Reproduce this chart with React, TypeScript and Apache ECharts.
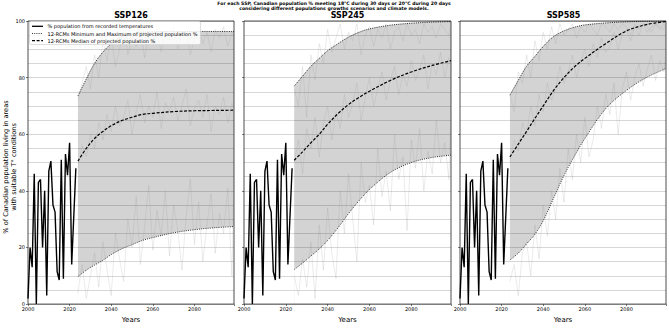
import React, { useEffect, useRef } from "react";
import * as echarts from "echarts";

const recordedYears = [2000, 2001, 2002, 2003, 2004, 2005, 2006, 2007, 2008, 2009, 2010, 2011, 2012, 2013, 2014, 2015, 2016, 2017, 2018, 2019, 2020, 2021, 2022, 2023];
const recordedPct = [2, 20, 13, 46, 0, 43, 44, 20, 40, 3, 47, 50.5, 35, 32.5, 11.5, 8.5, 51, 9, 53, 45.5, 57, 14, 31, 48];

const projYears = [2024, 2028, 2032, 2036, 2040, 2045, 2050, 2055, 2060, 2070, 2080, 2090, 2099];
const rawYears = [2024, 2026, 2028, 2030, 2032, 2034, 2036, 2038, 2040, 2042, 2044, 2046, 2048, 2050, 2052, 2054, 2056, 2058, 2060, 2062, 2064, 2066, 2068, 2070, 2072, 2074, 2076, 2078, 2080, 2082, 2084, 2086, 2088, 2090, 2092, 2094, 2096, 2098, 2099];

const scenarioNames = ["SSP126", "SSP245", "SSP585"];

const ssp126Min = [9.7, 12, 13.8, 15.5, 17.5, 19.5, 21, 22.5, 23.5, 25.2, 26.3, 27, 27.4];
const ssp126Med = [50.5, 55, 58.5, 61, 63, 64.8, 66, 67, 67.4, 68, 68.3, 68.4, 68.5];
const ssp126Max = [73.5, 79.5, 85, 89, 92, 94.5, 95.5, 96, 96.2, 96.3, 96.3, 96.3, 96.3];
const ssp126RawMin = [4, 14, 2, 10, 18, 6, 22, 12, 3, 25, 16, 8, 30, 20, 38, 14, 27, 42, 19, 33, 24, 40, 17, 35, 26, 12, 31, 44, 21, 36, 15, 28, 39, 18, 32, 25, 41, 10, 46];
const ssp126RawMed = [48, 56, 52, 60, 55, 64, 58, 67, 61, 70, 63, 66, 72, 60, 68, 74, 64, 70, 66, 75, 62, 71, 68, 73, 65, 70, 76, 63, 69, 72, 66, 74, 61, 70, 67, 73, 64, 71, 69];
const ssp126RawMax = [72, 78, 84, 76, 88, 80, 93, 86, 95, 84, 90, 97, 88, 94, 91, 98, 87, 95, 92, 97, 89, 96, 93, 98, 90, 95, 97, 88, 94, 98, 92, 96, 89, 97, 94, 98, 91, 96, 95];

const ssp245Min = [12.2, 14.5, 17, 19.5, 22.5, 27, 32, 36.5, 40.5, 46.5, 50, 51.8, 52.6];
const ssp245Med = [50.8, 53.8, 57, 60, 63.5, 67.3, 70.5, 73, 75.2, 79, 82, 84.3, 86];
const ssp245Max = [77, 80.5, 84, 86.8, 89.5, 92, 94.3, 96, 97.2, 98.5, 99.2, 99.6, 99.8];
const ssp245RawMin = [10, 3, 16, 6, 22, 2, 28, 12, 34, 18, 9, 40, 25, 46, 30, 15, 50, 36, 42, 28, 55, 38, 47, 33, 60, 44, 52, 26, 58, 48, 62, 40, 54, 46, 65, 50, 57, 44, 68];
const ssp245RawMed = [50, 58, 46, 62, 55, 66, 52, 64, 70, 58, 68, 62, 74, 66, 71, 78, 65, 73, 80, 70, 76, 82, 72, 79, 84, 74, 81, 77, 86, 79, 83, 88, 76, 85, 81, 89, 80, 87, 84];
const ssp245RawMax = [76, 70, 84, 66, 88, 79, 92, 85, 97, 89, 94, 99, 90, 96, 93, 99, 88, 95, 98, 91, 97, 94, 99, 90, 96, 98, 93, 99, 95, 97, 92, 99, 96, 98, 94, 99, 97, 95, 99];

const ssp585Min = [15.6, 18, 21.3, 24.7, 29.5, 37.5, 45.5, 52.3, 58.5, 69, 75.5, 80.2, 83.2];
const ssp585Med = [52, 56.5, 61, 65.6, 70, 75.5, 80, 83.8, 86.8, 92, 96.5, 98.8, 99.8];
const ssp585Max = [73.8, 79, 84, 87.5, 91, 94.5, 96.5, 97.8, 98.6, 99.3, 99.7, 99.9, 100];
const ssp585RawMin = [8, 14, 3, 18, 22, 10, 28, 16, 35, 24, 40, 30, 48, 36, 55, 44, 60, 50, 66, 52, 58, 70, 62, 74, 67, 78, 60, 76, 82, 72, 80, 85, 77, 83, 88, 79, 86, 82, 90];
const ssp585RawMed = [50, 58, 54, 64, 60, 70, 63, 74, 68, 78, 72, 76, 84, 78, 82, 88, 80, 86, 90, 84, 92, 87, 94, 89, 91, 96, 90, 95, 97, 93, 98, 95, 99, 96, 98, 99, 97, 99, 98];
const ssp585RawMax = [74, 68, 82, 78, 88, 80, 93, 86, 96, 90, 98, 92, 99, 95, 97, 99, 94, 98, 96, 99, 97, 95, 99, 98, 96, 99, 97, 99, 98, 95, 99, 97, 99, 98, 96, 99, 98, 97, 99];

const yTicks = [0, 20, 40, 60, 80, 100];
const xTicks = [2000, 2020, 2040, 2060, 2080];

const titleLines = [
  "For each SSP, Canadian population % meeting 18°C during 30 days or 20°C during 20 days",
  "considering different populations growths scenarios and climate models.",
];
const legendLabels = [
  "% population from recorded temperatures",
  "12-RCMs Minimum and Maximum of projected population %",
  "12-RCMs Median of projected population %",
];
const yAxisTitle = ["% of Canadian population living in areas", "with suitable T° conditions"];

const FONT = '"DejaVu Sans", "Liberation Sans", sans-serif';

export default function App() {
  const ref = useRef<HTMLDivElement>(null);

  useEffect(() => {
    if (!ref.current) return;
    const chart = echarts.init(ref.current, null, { renderer: "svg" });

    const panels = [
      { name: scenarioNames[0], min: ssp126Min, med: ssp126Med, max: ssp126Max, rMin: ssp126RawMin, rMed: ssp126RawMed, rMax: ssp126RawMax },
      { name: scenarioNames[1], min: ssp245Min, med: ssp245Med, max: ssp245Max, rMin: ssp245RawMin, rMed: ssp245RawMed, rMax: ssp245RawMax },
      { name: scenarioNames[2], min: ssp585Min, med: ssp585Med, max: ssp585Max, rMin: ssp585RawMin, rMed: ssp585RawMed, rMax: ssp585RawMax },
    ];
    const gridPos = [
      { left: 28, width: 206 },
      { left: 244, width: 207 },
      { left: 460, width: 207 },
    ];
    const top = 21;
    const height = 292;

    const grid = gridPos.map((g) => ({
      left: g.left,
      width: g.width,
      top,
      height,
      show: true,
      borderColor: "#222",
      borderWidth: 0.8,
      backgroundColor: "transparent",
      containLabel: false,
      z: 3,
    }));

    const xAxis = gridPos.map((_, i) => ({
      type: "value",
      gridIndex: i,
      min: 2000,
      max: 2099,
      interval: 20,
      name: "Years",
      nameLocation: "middle",
      nameGap: 11,
      nameTextStyle: { fontSize: 7, color: "#000", fontFamily: FONT },
      axisLine: { show: false },
      axisTick: { show: true, length: 2, lineStyle: { color: "#222", width: 0.6 } },
      axisLabel: { show: true, fontSize: 5, color: "#000", margin: 2, fontFamily: FONT, formatter: (v: number) => (xTicks.includes(v) ? String(v) : "") },
      splitLine: { show: false },
      z: 3,
    }));

    const yAxis = gridPos.map((_, i) => ({
      type: "value",
      gridIndex: i,
      min: 0,
      max: 100,
      interval: 20,
      axisLine: { show: false },
      axisTick: { show: true, length: 2, lineStyle: { color: "#222", width: 0.6 } },
      axisLabel: { show: i === 0, fontSize: 5, color: "#000", margin: 3, fontFamily: FONT, formatter: (v: number) => (yTicks.includes(v) ? String(v) : "") },
      splitLine: { show: true, lineStyle: { color: "rgba(0,0,0,0.2)", width: 0.8 } },
      minorTick: { show: false, splitNumber: 4 },
      minorSplitLine: { show: true, lineStyle: { color: "rgba(0,0,0,0.2)", width: 0.8 } },
      z: 3,
    }));

    const series: any[] = [];
    panels.forEach((p, i) => {
      const base = { type: "line", xAxisIndex: i, yAxisIndex: i, symbol: "none", showSymbol: false, silent: true };
      series.push({
        ...base,
        smooth: 0.35,
        data: projYears.map((y, k) => [y, p.max[k]]),
        lineStyle: { color: "#d3d3d3", width: 0.5 },
        areaStyle: { color: "#d3d3d3", opacity: 1, origin: "start" },
        z: 1,
      });
      series.push({
        ...base,
        smooth: 0.35,
        data: projYears.map((y, k) => [y, p.min[k]]),
        lineStyle: { color: "#ffffff", width: 0.5 },
        areaStyle: { color: "#ffffff", opacity: 1, origin: "start" },
        z: 1,
      });
      [p.rMin, p.rMed, p.rMax].forEach((arr) => {
        series.push({
          ...base,
          data: rawYears.map((y, k) => [y, arr[k]]),
          lineStyle: { color: "rgba(150,150,150,0.35)", width: 0.55 },
          z: 4,
        });
      });
      series.push({
        ...base,
        smooth: 0.35,
        data: projYears.map((y, k) => [y, p.min[k]]),
        lineStyle: { color: "#000", width: 0.8, type: [1, 1.2] },
        z: 5,
      });
      series.push({
        ...base,
        smooth: 0.35,
        data: projYears.map((y, k) => [y, p.max[k]]),
        lineStyle: { color: "#000", width: 0.8, type: [1, 1.2] },
        z: 5,
      });
      series.push({
        ...base,
        smooth: 0.35,
        data: projYears.map((y, k) => [y, p.med[k]]),
        lineStyle: { color: "#000", width: 1.2, type: [3, 1.6] },
        z: 6,
      });
      series.push({
        ...base,
        data: recordedYears.map((y, k) => [y, recordedPct[k]]),
        lineStyle: { color: "#000", width: 1.4 },
        z: 7,
      });
    });

    const txt = (x: number, y: number, text: string, font: string, align = "center", extra: any = {}) => ({
      type: "text",
      x,
      y,
      z: 100,
      ...extra,
      style: { text, font, fill: "#000", align, verticalAlign: "middle", textAlign: align, textVerticalAlign: "middle" },
    });

    const graphic: any[] = [
      txt(334, 3.5, titleLines[0], `bold 4.6px ${FONT}`),
      txt(334, 8.6, titleLines[1], `bold 4.6px ${FONT}`),
      ...panels.map((p, i) => txt(gridPos[i].left + gridPos[i].width / 2, 15.5, p.name, `bold 8px ${FONT}`)),
      txt(5.5, 167, yAxisTitle[0], `6.6px ${FONT}`, "center", { rotation: Math.PI / 2 }),
      txt(13.5, 167, yAxisTitle[1], `6.6px ${FONT}`, "center", { rotation: Math.PI / 2 }),
      {
        type: "rect",
        z: 99,
        shape: { x: 29.5, y: 21.5, width: 171, height: 23, r: 1.5 },
        style: { fill: "rgba(255,255,255,0.85)", stroke: "#d0d0d0", lineWidth: 0.7 },
      },
      { type: "line", z: 100, shape: { x1: 32, y1: 26.3, x2: 43, y2: 26.3 }, style: { stroke: "#000", lineWidth: 1.3 } },
      { type: "line", z: 100, shape: { x1: 32, y1: 33.5, x2: 43, y2: 33.5 }, style: { stroke: "#000", lineWidth: 0.8, lineDash: [1, 1.2] } },
      { type: "line", z: 100, shape: { x1: 32, y1: 40.7, x2: 43, y2: 40.7 }, style: { stroke: "#000", lineWidth: 1.2, lineDash: [3, 1.6] } },
      txt(47.5, 26.3, legendLabels[0], `5px ${FONT}`, "left"),
      txt(47.5, 33.5, legendLabels[1], `5px ${FONT}`, "left"),
      txt(47.5, 40.7, legendLabels[2], `5px ${FONT}`, "left"),
    ];

    chart.setOption({
      animation: false,
      backgroundColor: "#fff",
      textStyle: { fontFamily: FONT },
      grid,
      xAxis,
      yAxis,
      series,
      graphic,
    });

    return () => chart.dispose();
  }, []);

  return <div ref={ref} style={{ position: "fixed", left: 0, top: 0, width: 669, height: 328 }} />;
}
